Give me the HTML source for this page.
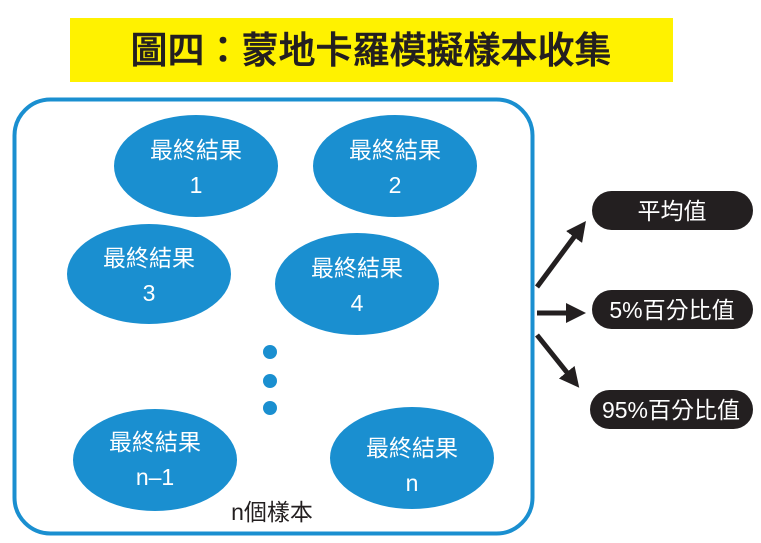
<!DOCTYPE html>
<html><head><meta charset="utf-8"><style>
body{margin:0;width:761px;height:543px;background:#fff;overflow:hidden}
svg{display:block}
text{font-family:"Liberation Sans","Noto Sans CJK TC",sans-serif}
</style></head><body>
<svg width="761" height="543" viewBox="0 0 761 543">
<defs><marker id="a" markerWidth="4" markerHeight="4" refX="2" refY="2" orient="auto"><path d="M0,0L4,2L0,4z" fill="#231f20"/></marker></defs>
<rect x="70" y="18" width="603" height="64" fill="#fff200"/>
<text x="371" y="63" font-size="37" font-weight="500" text-anchor="middle" fill="#231f20" stroke="#231f20" stroke-width="0.6">圖四：蒙地卡羅模擬樣本收集</text>
<rect x="14.5" y="99.5" width="518" height="434" rx="36" fill="none" stroke="#1a8fd0" stroke-width="4"/>
<g fill="#1a8fd0">
<ellipse cx="196" cy="166" rx="82" ry="51"/>
<ellipse cx="395" cy="166" rx="82" ry="51"/>
<ellipse cx="149" cy="274" rx="82" ry="50"/>
<ellipse cx="357" cy="284" rx="82" ry="51"/>
<ellipse cx="155" cy="460" rx="82" ry="51"/>
<ellipse cx="412" cy="458" rx="82" ry="51"/>
<circle cx="270" cy="352" r="7"/><circle cx="270" cy="381" r="7"/><circle cx="270" cy="408" r="7"/>
</g>
<g fill="#fff" font-size="23" text-anchor="middle">
<text x="196" y="158">最終結果</text><text x="196" y="193">1</text>
<text x="395" y="158">最終結果</text><text x="395" y="193">2</text>
<text x="149" y="266">最終結果</text><text x="149" y="301">3</text>
<text x="357" y="276">最終結果</text><text x="357" y="311">4</text>
<text x="155" y="450">最終結果</text><text x="155" y="485">n–1</text>
<text x="412" y="456">最終結果</text><text x="412" y="491">n</text>
</g>
<text x="272" y="520" font-size="23" text-anchor="middle" fill="#231f20">n個樣本</text>
<g stroke="#231f20" stroke-width="5" marker-end="url(#a)">
<line x1="537" y1="287" x2="580" y2="229"/>
<line x1="537" y1="313" x2="576" y2="313"/>
<line x1="537" y1="335" x2="573" y2="380"/>
</g>
<g fill="#231f20">
<rect x="592" y="191" width="161" height="39" rx="19.5"/>
<rect x="592" y="290" width="161" height="39" rx="19.5"/>
<rect x="590" y="390" width="163" height="39" rx="19.5"/>
</g>
<g fill="#fff" font-size="23" text-anchor="middle">
<text x="672" y="219">平均值</text>
<text x="672" y="318">5%百分比值</text>
<text x="671" y="418">95%百分比值</text>
</g>
</svg>
</body></html>
